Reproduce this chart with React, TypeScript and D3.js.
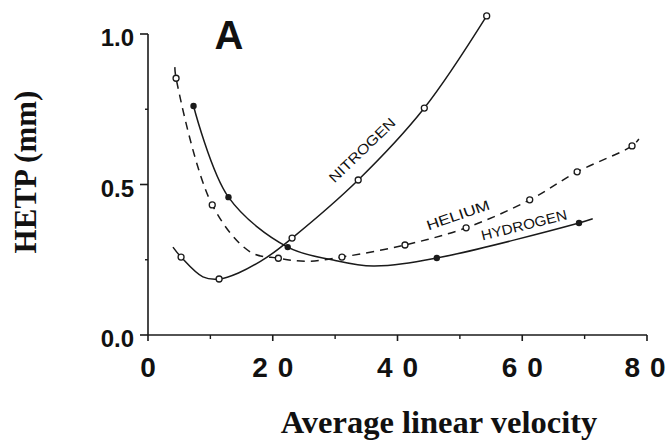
import * as d3 from 'd3';

// HETP vs average linear velocity
const xTicks = [0, 20, 40, 60, 80];
const xMinor = [10, 30, 50, 70];
const yTicks = [0, 0.5, 1.0];
const yMinor = [0.25, 0.75];

type Pt = [number, number];

const nitrogenCurve: Pt[] = [
  [4.0, 0.292], [5.3, 0.259], [8.8, 0.193], [11.4, 0.186], [14.5, 0.206],
  [19.1, 0.259], [23.1, 0.322], [33.7, 0.515], [44.3, 0.754], [54.3, 1.06],
];
const nitrogenPts: Pt[] = [
  [5.3, 0.259], [11.4, 0.186], [23.1, 0.322], [33.7, 0.515], [44.3, 0.754], [54.3, 1.06],
];

const heliumCurve: Pt[] = [
  [4.3, 0.89], [4.5, 0.853], [10.3, 0.432], [16.4, 0.276], [20.9, 0.255],
  [25.5, 0.245], [31.1, 0.259], [41.2, 0.299], [51.0, 0.356], [61.2, 0.449],
  [68.8, 0.542], [77.6, 0.628], [78.7, 0.651],
];
const heliumPts: Pt[] = [
  [4.5, 0.853], [10.3, 0.432], [20.9, 0.255], [31.1, 0.259], [41.2, 0.299],
  [51.0, 0.356], [61.2, 0.449], [68.8, 0.542], [77.6, 0.628],
];

const hydrogenCurve: Pt[] = [
  [7.3, 0.761], [12.9, 0.458], [22.4, 0.292], [29.7, 0.249], [36.1, 0.229],
  [46.3, 0.256], [69.1, 0.372], [71.3, 0.386],
];
const hydrogenPts: Pt[] = [
  [7.3, 0.761], [12.9, 0.458], [22.4, 0.292], [46.3, 0.256], [69.1, 0.372],
];

const W = 668;
const H = 441;
const ink = '#1a1a1a';

export default function App() {
  const x = d3.scaleLinear().domain([0, 80]).range([148, 647]);
  const y = d3.scaleLinear().domain([0, 1]).range([335, 34]);

  const line = d3
    .line<Pt>()
    .x((d) => x(d[0]))
    .y((d) => y(d[1]))
    .curve(d3.curveCatmullRom.alpha(0.5));

  const sans = '"Liberation Sans", Arial, sans-serif';
  const serif = '"Liberation Serif", "Times New Roman", serif';

  // labels along curves: [text, cx, cy, angle, length]
  const curveLabels: [string, number, number, number, number][] = [
    ['NITROGEN', 362, 150, -44, 86],
    ['HELIUM', 458, 215, -19, 66],
    ['HYDROGEN', 524, 225, -14, 88],
  ];

  return (
    <svg
      width={W}
      height={H}
      style={{ position: 'absolute', left: 0, top: 0, background: '#fff' }}
    >
      {/* axes */}
      <line x1={x(0)} x2={x(80)} y1={y(0)} y2={y(0)} stroke={ink} strokeWidth={1.6} />
      <line x1={x(0)} x2={x(0)} y1={y(0)} y2={y(1)} stroke={ink} strokeWidth={1.6} />

      {xTicks.map((t) => (
        <g key={'xt' + t}>
          <line x1={x(t)} x2={x(t)} y1={y(0)} y2={y(0) + 6} stroke={ink} strokeWidth={1.6} />
          <text
            x={Math.min(x(t), 645)}
            y={377}
            textAnchor="middle"
            fontFamily={sans}
            fontWeight="bold"
            fontSize={28}
            textLength={t > 0 ? 41 : undefined}
            lengthAdjust="spacing"
            fill="#111"
          >
            {t}
          </text>
        </g>
      ))}
      {xMinor.map((t) => (
        <line key={'xm' + t} x1={x(t)} x2={x(t)} y1={y(0)} y2={y(0) + 4} stroke={ink} strokeWidth={1.4} />
      ))}

      {yTicks.map((t) => (
        <g key={'yt' + t}>
          <line x1={x(0) - 8} x2={x(0)} y1={y(t)} y2={y(t)} stroke={ink} strokeWidth={1.6} />
          <text
            x={134}
            y={y(t) + 12}
            textAnchor="end"
            fontFamily={sans}
            fontWeight="bold"
            fontSize={24}
            fill="#111"
          >
            {t.toFixed(1)}
          </text>
        </g>
      ))}
      {yMinor.map((t) => (
        <line key={'ym' + t} x1={x(0) - 3} x2={x(0)} y1={y(t)} y2={y(t)} stroke={ink} strokeWidth={1.4} />
      ))}

      {/* curves */}
      <path d={line(nitrogenCurve) || ''} fill="none" stroke={ink} strokeWidth={1.5} />
      <path d={line(hydrogenCurve) || ''} fill="none" stroke={ink} strokeWidth={1.5} />
      <path
        d={line(heliumCurve) || ''}
        fill="none"
        stroke={ink}
        strokeWidth={1.5}
        strokeDasharray="8,6"
      />

      {nitrogenPts.map((d, i) => (
        <circle key={'n' + i} cx={x(d[0])} cy={y(d[1])} r={3} fill="#fff" stroke={ink} strokeWidth={1.3} />
      ))}
      {heliumPts.map((d, i) => (
        <circle key={'he' + i} cx={x(d[0])} cy={y(d[1])} r={3} fill="#fff" stroke={ink} strokeWidth={1.3} />
      ))}
      {hydrogenPts.map((d, i) => (
        <circle key={'h' + i} cx={x(d[0])} cy={y(d[1])} r={3.2} fill={ink} />
      ))}

      {curveLabels.map(([txt, cx, cy, a, len]) => (
        <text
          key={txt}
          transform={`translate(${cx},${cy}) rotate(${a})`}
          y={5}
          textAnchor="middle"
          fontFamily={sans}
          fontSize={14}
          textLength={len}
          lengthAdjust="spacingAndGlyphs"
          fill="#111"
        >
          {txt}
        </text>
      ))}

      {/* panel letter */}
      <text x={229} y={49} textAnchor="middle" fontFamily={sans} fontWeight="bold" fontSize={40} fill="#111">
        A
      </text>

      {/* axis titles */}
      <text
        x={439}
        y={433}
        textAnchor="middle"
        fontFamily={serif}
        fontWeight="bold"
        fontSize={32.5}
        fill="#111"
      >
        Average linear velocity
      </text>
      <text
        transform="translate(36,172) rotate(-90)"
        textAnchor="middle"
        fontFamily={serif}
        fontWeight="bold"
        fontSize={31}
        fill="#111"
      >
        HETP (mm)
      </text>
    </svg>
  );
}
